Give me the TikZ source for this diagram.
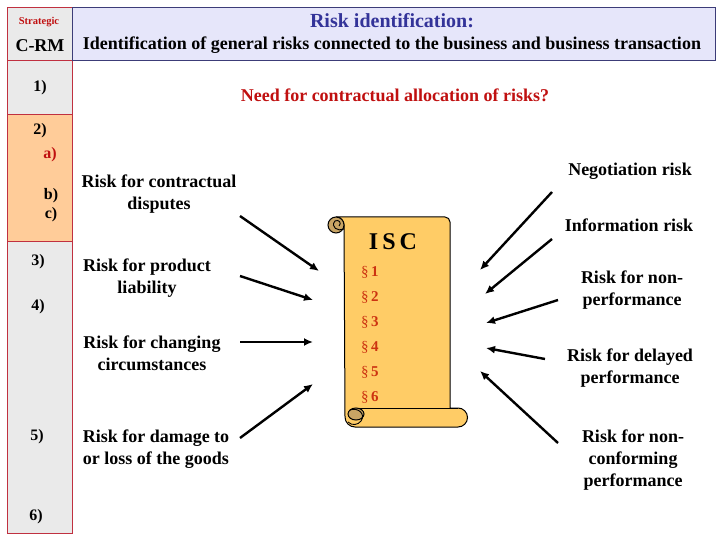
\documentclass[tikz,border=0pt]{standalone}
\usepackage{fontspec}
\setmainfont{Liberation Serif}
\usetikzlibrary{arrows.meta}
\definecolor{hdrfill}{RGB}{230,230,250}
\definecolor{hdrline}{RGB}{60,60,120}
\definecolor{titleblue}{RGB}{51,51,153}
\definecolor{colline}{RGB}{192,48,64}
\definecolor{colgray}{RGB}{234,234,234}
\definecolor{colorange}{RGB}{255,204,153}
\definecolor{darkred}{RGB}{192,16,16}
\definecolor{parared}{RGB}{204,51,17}
\definecolor{scrollfill}{RGB}{255,204,102}
\definecolor{curlfill}{RGB}{200,164,100}
\begin{document}
\begin{tikzpicture}[x=1pt,y=-1pt,
  txt/.style={font=\fontsize{18}{22}\selectfont\bfseries, align=center, inner sep=0pt},
  lbl/.style={font=\fontsize{16}{18}\selectfont\bfseries, inner sep=0pt},
  para/.style={font=\fontsize{15}{16}\selectfont\bfseries, text=parared, anchor=west, inner sep=0pt},
  riskarrow/.style={line width=2.4pt, -{Latex[length=9pt,width=8pt]}},
  cell/.style={draw=colline, line width=0.8pt},
]
\useasboundingbox (0,0) rectangle (720,540);
\fill[white] (0,0) rectangle (720,540);

% left column
\filldraw[cell, fill=colgray] (7,7) rectangle (72,60);
\filldraw[cell, fill=colgray] (7,60) rectangle (72,114);
\filldraw[cell, fill=colorange] (7,114) rectangle (72,241);
\filldraw[cell, fill=colgray] (7,241) rectangle (72,533);
% header
\filldraw[draw=hdrline, line width=0.8pt, fill=hdrfill] (72,7) rectangle (715,60);

\node[inner sep=0pt, text=darkred, font=\fontsize{10.5}{12}\selectfont\bfseries] (strat) at (39,22) {Strategic};
\node[txt] (crm) at (40,46) {C-RM};
\node[txt, text=titleblue, font=\fontsize{20}{24}\selectfont\bfseries] (title) at (392,21) {Risk identification:};
\node[txt] (subtitle) at (392,45) {Identification of general risks connected to the business and business transaction};

\node[lbl] (r1) at (40,88) {1)};
\node[lbl] (r2) at (40,131) {2)};
\node[lbl, text=darkred] (r2a) at (50,155) {a)};
\node[lbl] (r2b) at (51,196) {b)};
\node[lbl] (r2c) at (51,215) {c)};
\node[lbl] (r3) at (38,262) {3)};
\node[lbl] (r4) at (38,307) {4)};
\node[lbl] (r5) at (37,437) {5)};
\node[lbl] (r6) at (36,517) {6)};

\node[txt, text=darkred] (need) at (395,95) {Need for contractual allocation of risks?};

% left risks
\node[txt] (disputes) at (159,194) {Risk for contractual\\disputes};
\node[txt] (product) at (147,278) {Risk for product\\liability};
\node[txt] (changing) at (152,353) {Risk for changing\\circumstances};
\node[txt] (damage) at (156,449) {Risk for damage to\\or loss of the goods};

% right risks
\node[txt] (negot) at (630,171) {Negotiation risk};
\node[txt] (info) at (629,225) {Information risk};
\node[txt] (nonperf) at (632,290) {Risk for non-\\performance};
\node[txt] (delayed) at (630,368) {Risk for delayed\\performance};
\node[txt] (noncon) at (633,460) {Risk for non-\\conforming\\performance};

% scroll
\filldraw[fill=scrollfill, draw=black, line width=1pt]
  (336,217) -- (445,217) arc[start angle=270, end angle=360, radius=5]
  -- (450,408) -- (458,408) arc[start angle=270, end angle=450, radius=9.5]
  -- (355,427) arc[start angle=90, end angle=180, radius=10]
  -- (344,225) arc[start angle=0, end angle=-90, radius=8] -- cycle;
\draw[line width=1pt] (352,408) -- (458,408);
\filldraw[fill=curlfill, draw=black, line width=1pt] (336,225) circle[radius=8];
\draw[line width=0.9pt] (344,229) .. controls (338,232) and (330,227) .. (335,221) .. controls (339,219) and (342,223) .. (339,226);
\filldraw[fill=curlfill, draw=black, line width=1pt] (356,414) ellipse[x radius=8, y radius=6];
\draw[line width=0.9pt] (350,410) .. controls (358,407) and (366,414) .. (361,421) .. controls (358,425) and (352,426) .. (348,422);

\node[font=\fontsize{24}{26}\selectfont\bfseries, inner sep=0pt] (isc) at (393,242) {I\hspace{4pt}S\hspace{4pt}C};
\node[para] (p1) at (361,272) {{\mdseries\S}\,1};
\node[para] (p2) at (361,297) {{\mdseries\S}\,2};
\node[para] (p3) at (361,322) {{\mdseries\S}\,3};
\node[para] (p4) at (361,347) {{\mdseries\S}\,4};
\node[para] (p5) at (361,372) {{\mdseries\S}\,5};
\node[para] (p6) at (361,397) {{\mdseries\S}\,6};

% arrow endpoints
\coordinate (l1s) at (240,216); \coordinate (l1e) at (319,271);
\coordinate (l2s) at (240,276); \coordinate (l2e) at (313,300);
\coordinate (l3s) at (240,342); \coordinate (l3e) at (313,342);
\coordinate (l4s) at (240,438); \coordinate (l4e) at (313,384);
\coordinate (r1s) at (552,192); \coordinate (r1e) at (480,270);
\coordinate (r2s) at (552,239); \coordinate (r2e) at (485,294);
\coordinate (r3s) at (558,300); \coordinate (r3e) at (486,323);
\coordinate (r4s) at (545,359); \coordinate (r4e) at (486,348);
\coordinate (r5s) at (558,443); \coordinate (r5e) at (480,371);

\draw[riskarrow] (l1s) -- (l1e);
\draw[riskarrow] (l2s) -- (l2e);
\draw[riskarrow] (l3s) -- (l3e);
\draw[riskarrow] (l4s) -- (l4e);
\draw[riskarrow] (r1s) -- (r1e);
\draw[riskarrow] (r2s) -- (r2e);
\draw[riskarrow] (r3s) -- (r3e);
\draw[riskarrow] (r4s) -- (r4e);
\draw[riskarrow] (r5s) -- (r5e);
\end{tikzpicture}
\end{document}
